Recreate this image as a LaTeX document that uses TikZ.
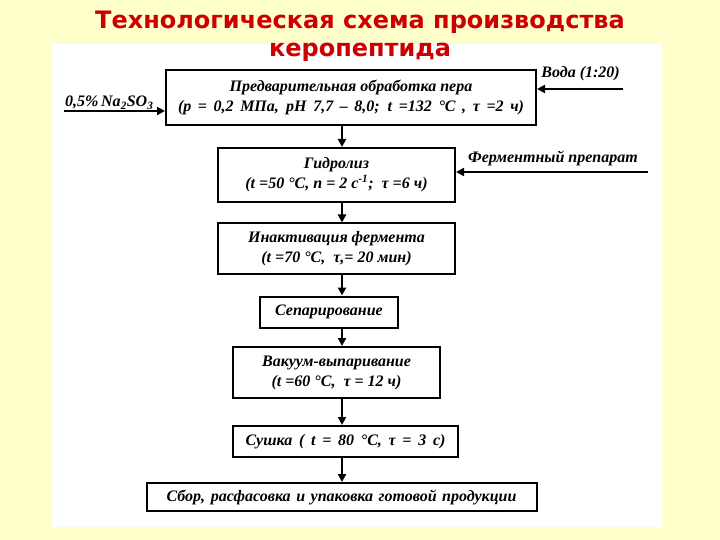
\documentclass[tikz,border=0pt]{standalone}
\usepackage{fontspec}
\setmainfont{Liberation Serif}
\newfontfamily\titlefont{DejaVu Sans}
\usetikzlibrary{arrows.meta}
\definecolor{bgyellow}{RGB}{255,255,204}
\definecolor{titlered}{RGB}{204,0,0}
\tikzset{
  box/.style={draw=black, line width=2pt, fill=white, inner sep=0pt, align=center,
    font=\fontsize{16}{20}\selectfont\bfseries\itshape},
  arr/.style={line width=2pt, -{Triangle[length=8pt,width=8pt]}},
  lbl/.style={inner sep=0pt, font=\fontsize{16}{20}\selectfont\bfseries\itshape},
  titlestyle/.style={font=\titlefont\fontsize{24}{28}\selectfont\bfseries, text=titlered, align=center},
}
\begin{document}
\begin{tikzpicture}[x=1pt,y=-1pt]
\useasboundingbox (0,0) rectangle (720,540);
\fill[bgyellow] (0,0) rectangle (720,540);
\fill[white] (52,44) rectangle (662,527);
\node[titlestyle] (title) at (360,36)
  {Технологическая схема производства\\керопептида};
% boxes
\node[box, minimum width=370pt, minimum height=55pt] (b1) at (351,97.5)
  {Предварительная обработка пера\\\makebox[346pt][s]{(р = 0,2 МПа, рН 7,7 – 8,0; t =132 °С , τ =2 ч)}};
\node[box, minimum width=237pt, minimum height=54pt] (b2) at (336.5,175)
  {Гидролиз\\(t =50 °С, n = 2 с\textsuperscript{-1}; \ τ =6 ч)};
\node[box, minimum width=237pt, minimum height=50pt] (b3) at (336.5,248.5)
  {Инактивация фермента\\(t =70 °С, \ τ,= 20 мин)};
\node[box, minimum width=138pt, minimum height=31pt] (b4) at (329,312)
  {Сепарирование};
\node[box, minimum width=207pt, minimum height=51pt] (b5) at (336.5,372.5)
  {Вакуум-выпаривание\\(t =60 °С, \ τ = 12 ч)};
\node[box, minimum width=225pt, minimum height=31pt] (b6) at (345.5,441.5)
  {\makebox[200pt][s]{Сушка ( t = 80 °С, τ = 3 с)}};
\node[box, minimum width=390pt, minimum height=28pt] (b7) at (341.5,497)
  {\makebox[350pt][s]{Сбор, расфасовка и упаковка готовой продукции}};
% main flow
\coordinate (ax) at (342,0);
\draw[arr] (ax |- b1.south) -- (ax |- b2.north);
\draw[arr] (ax |- b2.south) -- (ax |- b3.north);
\draw[arr] (ax |- b3.south) -- (ax |- b4.north);
\draw[arr] (ax |- b4.south) -- (ax |- b5.north);
\draw[arr] (ax |- b5.south) -- (ax |- b6.north);
\draw[arr] (ax |- b6.south) -- (ax |- b7.north);
% side inputs
\coordinate (na) at (64,111);
\draw[arr] (na) -- (na -| b1.west);
\node[lbl, anchor=base west] (nalbl) at (65,107) {0,5\%\,Na\textsubscript{2}SO\textsubscript{3}};
\coordinate (wa) at (623,89);
\draw[arr] (wa) -- (wa -| b1.east);
\node[lbl, anchor=base east] (walbl) at (620,78) {Вода (1:20)};
\coordinate (fa) at (648,172);
\draw[arr] (fa) -- (fa -| b2.east);
\node[lbl, anchor=base west] (falbl) at (468,163) {Ферментный препарат};
\end{tikzpicture}
\end{document}
